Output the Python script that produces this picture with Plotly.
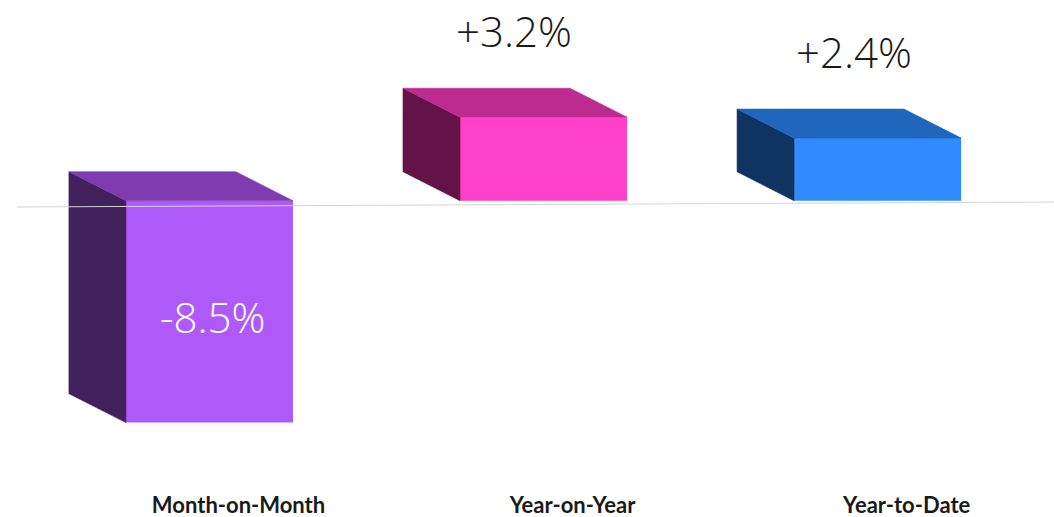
import plotly.graph_objects as go

categories = ["Month-on-Month", "Year-on-Year", "Year-to-Date"]
values = [-8.5, 3.2, 2.4]
value_labels = ["-8.5%", "+3.2%", "+2.4%"]
front_colors = ["#AE5AF8", "#FF40C8", "#2E8CFF"]
top_colors = ["#7E3CB0", "#BC2B90", "#1F66BC"]
side_colors = ["#41205C", "#631347", "#103462"]
label_colors = ["#FFFFFF", "#1A1A1A", "#1A1A1A"]

BAR_WIDTH = 0.5
DEPTH_X = 0.1707
DEPTH_Y = 1.11
LABEL_NUDGE_X = [0.009, -0.088, -0.072]
positions = list(range(len(categories)))

fig = go.Figure()

# Extruded faces: a side and a top polygon behind each front bar
for x, v, side, top in zip(positions, values, side_colors, top_colors):
    left, right = x - BAR_WIDTH / 2, x + BAR_WIDTH / 2
    upper, lower = max(v, 0), min(v, 0)
    fig.add_trace(go.Scatter(
        x=[left, left - DEPTH_X, left - DEPTH_X, left, left],
        y=[upper, upper + DEPTH_Y, lower + DEPTH_Y, lower, upper],
        mode="lines", fill="toself", fillcolor=side, line=dict(width=0.6, color=side),
        hoverinfo="skip", showlegend=False,
    ))
    fig.add_trace(go.Scatter(
        x=[left, left - DEPTH_X, right - DEPTH_X, right, left],
        y=[upper, upper + DEPTH_Y, upper + DEPTH_Y, upper, upper],
        mode="lines", fill="toself", fillcolor=top, line=dict(width=0.6, color=top),
        hoverinfo="skip", showlegend=False,
    ))

# Front faces
fig.add_trace(go.Bar(
    x=positions, y=values, width=BAR_WIDTH,
    marker=dict(color=front_colors, line=dict(width=0)),
    hoverinfo="skip", showlegend=False,
))

# Value labels: above the block when positive, inside it when negative
for x, v, text, color, nudge in zip(positions, values, value_labels, label_colors, LABEL_NUDGE_X):
    fig.add_annotation(
        x=x + nudge,
        y=v + DEPTH_Y if v > 0 else v / 2,
        yshift=58 if v > 0 else -5,
        text=text, showarrow=False, xanchor="center", yanchor="middle",
        font=dict(family="Open Sans", size=42, color=color, weight=300),
    )

# Baseline, running very slightly off level across the page
fig.add_shape(
    type="line", xref="paper", yref="paper", layer="above",
    x0=17 / 1054, x1=1.0, y0=1 - 207 / 497, y1=1 - 202 / 497,
    line=dict(color="#D4D4D4", width=1),
)

fig.update_layout(
    width=1054, height=517,
    margin=dict(l=0, r=0, t=0, b=20),
    paper_bgcolor="white", plot_bgcolor="white",
    barmode="overlay",
    xaxis=dict(
        range=[-0.627, 2.528], showgrid=False, zeroline=False, showline=False,
        automargin=False,
        tickmode="array", tickvals=[p + 0.087 for p in positions], ticktext=categories,
        ticks="", tickangle=0, ticklabelstandoff=-7,
        tickfont=dict(family="Lato", size=22, color="#1A1A1A", weight=700),
    ),
    yaxis=dict(range=[-11.35, 7.69], visible=False, automargin=False),
)

fig.write_html("out.html")
